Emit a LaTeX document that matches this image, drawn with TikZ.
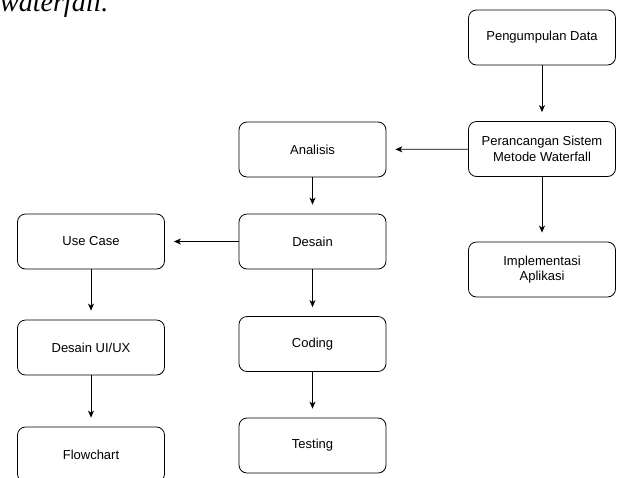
\documentclass[tikz,border=0pt]{standalone}
\usepackage{fontspec}
\setmainfont{Liberation Sans}
\newfontfamily\judulfont{Liberation Serif}
\usetikzlibrary{arrows.meta, positioning}

\begin{document}
\begin{tikzpicture}[
  x=1pt, y=-1pt,
  tahap/.style={draw, rounded corners=8pt, line width=0.8pt, minimum width=147pt, minimum height=55pt, align=center, font=\fontsize{13}{15.5}\selectfont},
  panah/.style={-{Stealth[length=7pt, width=6pt, inset=2pt]}, line width=0.8pt, shorten >=9pt}
]
  \useasboundingbox (0,0) rectangle (617,477);
  % judul terpotong di atas
  \node[anchor=base west, inner sep=0pt, font=\judulfont\itshape\fontsize{28}{30}\selectfont] (judul) at (0,11) {waterfall.};

  % kolom kanan
  \node[tahap] (kumpul) at (542,37.5) {Pengumpulan Data};
  \node[tahap] (rancang) at (542,149) {Perancangan Sistem\\Metode Waterfall};
  \node[tahap] (implementasi) at (542,269.5) {Implementasi\\Aplikasi};

  % kolom tengah
  \node[tahap] (analisis) at (312.5,149.5) {Analisis};
  \node[tahap] (desain) at (312.5,241.5) {Desain};
  \node[tahap] (coding) at (312.5,344) {Coding};
  \node[tahap] (testing) at (312.5,445.5) {Testing};

  % kolom kiri
  \node[tahap] (usecase) at (91,241.5) {Use Case};
  \node[tahap] (uiux) at (91,347.5) {Desain UI/UX};
  \node[tahap] (flowchart) at (91,454.5) {Flowchart};

  \draw[panah] (kumpul) -- (rancang);
  \draw[panah] (rancang) -- (implementasi);
  \draw[panah] (rancang) -- (analisis);
  \draw[panah] (analisis) -- (desain);
  \draw[panah] (desain) -- (coding);
  \draw[panah] (coding) -- (testing);
  \draw[panah] (desain) -- (usecase);
  \draw[panah] (usecase) -- (uiux);
  \draw[panah] (uiux) -- (flowchart);
\end{tikzpicture}
\end{document}
